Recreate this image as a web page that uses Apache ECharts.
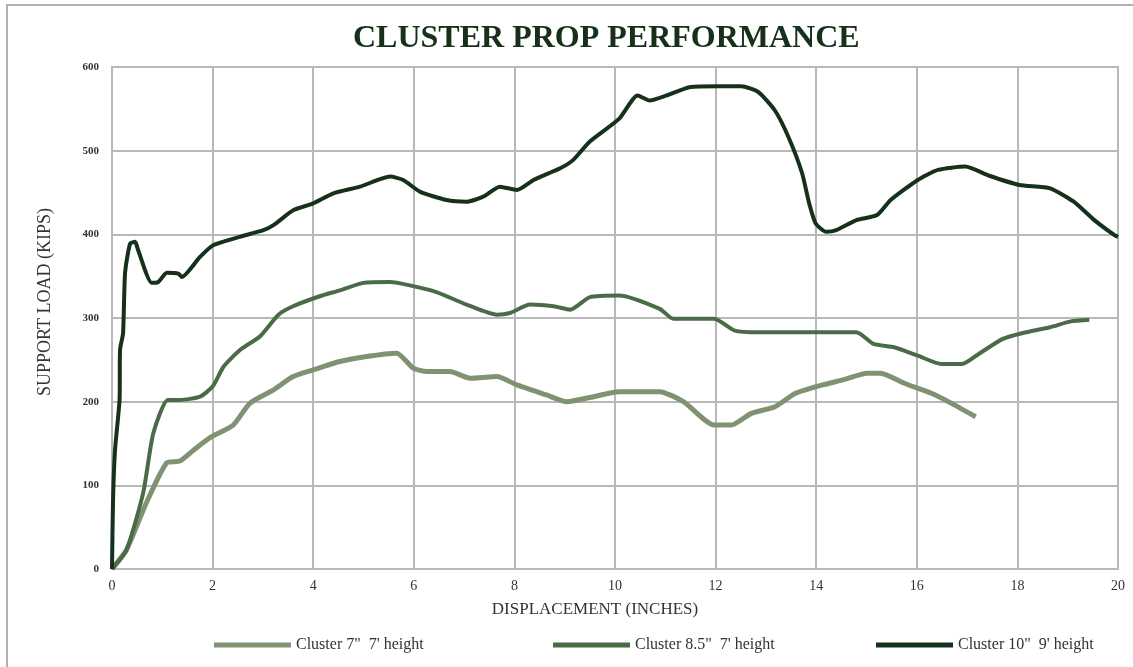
<!DOCTYPE html>
<html>
<head>
<meta charset="utf-8">
<script src="https://cdn.jsdelivr.net/npm/echarts@6/dist/echarts.min.js"></script>
<style>
  html, body { margin: 0; padding: 0; background: #fff; }
  #chart { width: 1133px; height: 667px; }
</style>
</head>
<body>
<div id="chart"></div>
<script>
// values (displacement in inches, load in kips)
var names = ['Cluster 7"  7\' height', 'Cluster 8.5"  7\' height', 'Cluster 10"  9\' height'];
var colors = ['#7f9372', '#4b6a47', '#15301b'];

var x7 = [0, 0.29, 0.69, 1.09, 1.35, 1.62, 1.95, 2.41, 2.74, 3.21, 3.6, 4.0, 4.53, 5.06, 5.66, 5.99, 6.26, 6.72, 7.12, 7.65, 8.05, 8.64, 9.04, 9.5, 10.08, 10.89, 11.36, 11.97, 12.31, 12.71, 13.18, 13.59, 14.13, 14.53, 15.01, 15.28, 15.75, 16.29, 16.69, 17.17];
var y7 = [0, 23, 80, 127, 129, 142, 157, 172, 198, 214, 230, 238, 248, 254, 258, 240, 236, 236, 228, 230, 220, 208, 200, 205, 212, 212, 200, 172, 172, 186, 194, 210, 220, 226, 234, 234, 222, 210, 198, 182];

var x85 = [0, 0.29, 0.62, 0.82, 1.11, 1.35, 1.75, 2.0, 2.22, 2.55, 2.94, 3.31, 3.6, 4.13, 4.53, 5.0, 5.53, 5.92, 6.45, 7.05, 7.65, 7.91, 8.31, 8.78, 9.11, 9.5, 10.08, 10.89, 11.16, 11.97, 12.38, 12.85, 14.8, 15.14, 15.55, 16.02, 16.49, 16.9, 17.23, 17.71, 18.11, 18.65, 19.06, 19.43];
var y85 = [0, 23, 91, 162, 202, 202, 206, 218, 242, 262, 278, 304, 314, 326, 333, 342, 343, 339, 331, 316, 304, 306, 316, 314, 310, 325, 327, 311, 299, 299, 285, 283, 283, 269, 265, 255, 245, 245, 257, 275, 282, 289, 296, 298];

var x10 = [0, 0.02, 0.06, 0.15, 0.16, 0.22, 0.26, 0.36, 0.46, 0.52, 0.79, 0.92, 1.09, 1.32, 1.39, 1.75, 2.01, 2.54, 3.01, 3.21, 3.61, 4.0, 4.4, 4.93, 5.53, 5.79, 6.12, 6.65, 7.05, 7.38, 7.71, 8.05, 8.38, 8.91, 9.17, 9.5, 10.08, 10.45, 10.69, 11.03, 11.5, 12.04, 12.51, 12.85, 13.18, 13.45, 13.72, 13.86, 13.99, 14.2, 14.4, 14.8, 15.21, 15.48, 16.02, 16.42, 16.96, 17.44, 18.04, 18.65, 19.12, 19.53, 19.93, 20];
var y10 = [0, 80, 142, 202, 262, 282, 354, 389, 391, 381, 342, 343, 354, 353, 349, 373, 387, 397, 405, 411, 429, 437, 449, 457, 469, 465, 451, 441, 439, 445, 457, 453, 465, 479, 489, 511, 538, 566, 560, 566, 576, 577, 577, 570, 548, 516, 473, 437, 413, 403, 405, 417, 423, 441, 465, 477, 481, 470, 459, 455, 439, 417, 399, 397];

var xTicks = [0, 2, 4, 6, 8, 10, 12, 14, 16, 18, 20];
var yTicks = [0, 100, 200, 300, 400, 500, 600];

function pairs(xs, ys) {
  return xs.map(function (x, i) { return [x, ys[i]]; });
}

var serif = '"Liberation Serif", "DejaVu Serif", serif';
var widths = [5, 4, 4];
var legendLeft = [209, 548, 871];

var option = {
  animation: false,
  backgroundColor: '#fff',
  title: {
    text: 'CLUSTER PROP PERFORMANCE',
    left: 348,
    top: 18,
    textStyle: { fontFamily: serif, fontSize: 32, fontWeight: 'bold', color: '#163019' }
  },
  legend: names.map(function (n, i) {
    return {
      data: [n],
      left: legendLeft[i],
      top: 632,
      itemWidth: 77,
      itemHeight: 5,
      itemGap: 10,
      icon: 'rect',
      textStyle: { fontFamily: serif, fontSize: 16, color: '#333' }
    };
  }),
  grid: { left: 112, right: 15, top: 67, bottom: 98, show: true, borderColor: '#b8b8b8', borderWidth: 2 },
  xAxis: {
    type: 'value',
    min: 0, max: 20, interval: 2,
    name: 'DISPLACEMENT (INCHES)',
    nameLocation: 'middle',
    nameGap: 32,
    nameTextStyle: { fontFamily: serif, fontSize: 17, color: '#333', padding: [0, 40, 0, 0] },
    axisLine: { show: false },
    axisTick: { show: false },
    axisLabel: { fontFamily: serif, fontSize: 14, color: '#333', margin: 10 },
    splitLine: { lineStyle: { color: '#b8b8b8', width: 2 } }
  },
  yAxis: {
    type: 'value',
    min: 0, max: 600, interval: 100,
    name: 'SUPPORT LOAD (KIPS)',
    nameLocation: 'middle',
    nameGap: 58,
    nameTextStyle: { fontFamily: serif, fontSize: 18, color: '#333', padding: [0, 0, 0, 32] },
    axisLine: { show: false },
    axisTick: { show: false },
    axisLabel: { fontFamily: serif, fontSize: 11, fontWeight: 'bold', color: '#333', margin: 13 },
    splitLine: { lineStyle: { color: '#b8b8b8', width: 2 } }
  },
  graphic: [{
    type: 'rect',
    shape: { x: 7, y: 5, width: 1200, height: 720 },
    style: { fill: 'none', stroke: '#b0b0b0', lineWidth: 2 },
    silent: true
  }],
  series: [
    { name: names[0], data: pairs(x7, y7) },
    { name: names[1], data: pairs(x85, y85) },
    { name: names[2], data: pairs(x10, y10) }
  ].map(function (s, i) {
    return {
      name: s.name,
      type: 'line',
      data: s.data,
      showSymbol: false,
      smooth: 0.2,
      color: colors[i],
      lineStyle: { color: colors[i], width: widths[i] }
    };
  })
};

var myChart = echarts.init(document.getElementById('chart'));
myChart.setOption(option);
</script>
</body>
</html>
